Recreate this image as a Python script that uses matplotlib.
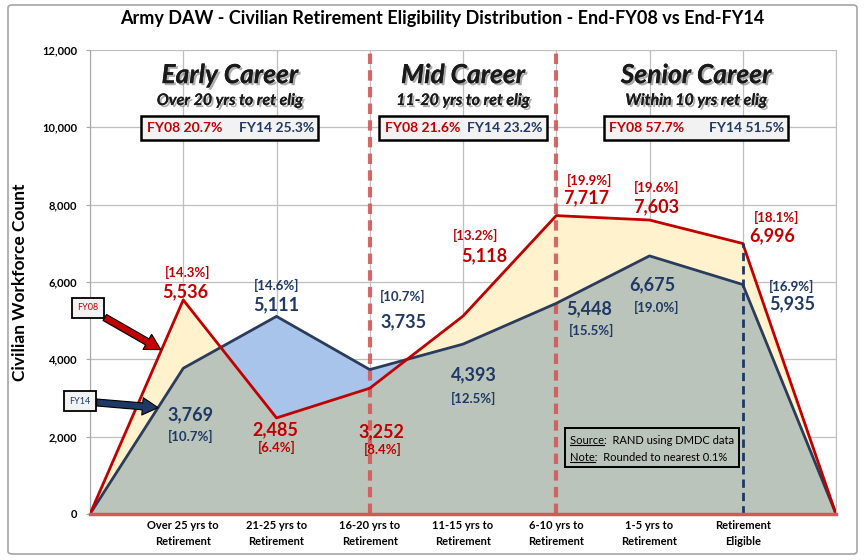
import numpy as np
import matplotlib
matplotlib.use("Agg")
import matplotlib.pyplot as plt
import matplotlib.patheffects as pe
from matplotlib.patches import Rectangle, FancyBboxPatch

plt.rcParams['font.family'] = ['Lato', 'DejaVu Sans']

# data
categories = ['', 'Over 25 yrs to\nRetirement', '21-25 yrs to\nRetirement', '16-20 yrs to\nRetirement',
              '11-15 yrs to\nRetirement', '6-10 yrs to\nRetirement', '1-5 yrs to\nRetirement',
              'Retirement\nEligible', '']
fy08 = [0, 5536, 2485, 3252, 5118, 7717, 7603, 6996, 0]
fy14 = [0, 3769, 5111, 3735, 4393, 5448, 6675, 5935, 0]
fy08_pct = ['14.3', '6.4', '8.4', '13.2', '19.9', '19.6', '18.1']
fy14_pct = ['10.7', '14.6', '10.7', '12.5', '15.5', '19.0', '16.9']

regions = ['Early Career', 'Mid Career', 'Senior Career']
region_sub = ['Over 20 yrs to ret elig', '11-20 yrs to ret elig', 'Within 10 yrs ret elig']
region_fy08 = ['20.7', '21.6', '57.7']
region_fy14 = ['25.3', '23.2', '51.5']

RED = '#C00000'
NAVY = '#1F3864'

# label offsets in pixels (dx, dy) for value and percent labels
fy08_val_off = [(2, 8), (-1, -12), (12, -43), (21, 60), (30, 18), (7, 13), (29, 8)]
fy08_pct_off = [(4, 27), (0, -30), (13, -61), (13, 81), (33, 35), (7, 33), (34, 26)]
fy14_val_off = [(7, -46), (0, 12), (34, 48), (11, -31), (33, -5), (3, -29), (49, -19)]
fy14_pct_off = [(7, -68), (0, 31), (33, 73), (11, -54), (35, -27), (7, -52), (49, -2)]

fig = plt.figure(figsize=(8.65, 5.6), dpi=100)
ax = fig.add_axes([90 / 865, 46 / 560, 746 / 865, 464 / 560])

x = np.arange(len(fy08))
xf = np.linspace(0, len(fy08) - 1, 1601)
y08 = np.interp(xf, x, fy08)
y14 = np.interp(xf, x, fy14)

ax.fill_between(xf, 0, np.minimum(y08, y14), color='#BBC4BA', lw=0, zorder=2)
ax.fill_between(xf, y14, y08, where=y08 >= y14, color='#FFF2CC', lw=0, zorder=2)
ax.fill_between(xf, y08, y14, where=y14 >= y08, color='#A9C4EA', lw=0, zorder=2)
ax.plot(x, fy14, color='#2B3B5C', lw=2, zorder=4)
ax.plot(x, fy08, color=RED, lw=2, zorder=5)

ax.set_xlim(0, 8)
ax.set_ylim(0, 12000)
ax.set_yticks(range(0, 12001, 2000))
ax.set_yticklabels([f'{v:,}' for v in range(0, 12001, 2000)], fontsize=8, fontweight='bold')
ax.set_xticks(x)
ax.set_xticklabels(categories, fontsize=8, fontweight='bold', linespacing=1.55)
ax.tick_params(axis='x', length=0, pad=4)
ax.tick_params(axis='y', length=3, color='#A6A6A6', pad=6)
ax.grid(True, color='#BFBFBF', lw=0.9, zorder=1)
ax.set_axisbelow(True)
ax.spines['top'].set_visible(False)
ax.spines['left'].set_color('#A6A6A6')
ax.spines['right'].set_color('#BFBFBF')
ax.spines['bottom'].set_color('#D05A5A')
ax.spines['bottom'].set_linewidth(2.5)
ax.spines['bottom'].set_zorder(6)

ax.set_ylabel('Civilian Workforce Count', fontsize=12.5, fontweight='bold')
ax.yaxis.set_label_coords(-0.083, 0.5)

# career separators
for xv in [3, 5]:
    ax.axvline(xv, color='#D05A5A', lw=3, ls=(0, (2.5, 1.5)), alpha=0.9, zorder=3)
ax.vlines(7, 0, fy08[7], color=NAVY, lw=2, ls=(0, (3, 1.8)), zorder=6)

# data labels
for i in range(1, 8):
    k = i - 1
    ax.annotate(f'{fy08[i]:,}', (i, fy08[i]), xytext=fy08_val_off[k], textcoords='offset pixels',
                ha='center', va='center', color=RED, fontsize=13, fontweight='bold', zorder=7)
    ax.annotate(f'[{fy08_pct[k]}%]', (i, fy08[i]), xytext=fy08_pct_off[k], textcoords='offset pixels',
                ha='center', va='center', color=RED, fontsize=9.5, fontweight='bold', zorder=7)
    ax.annotate(f'{fy14[i]:,}', (i, fy14[i]), xytext=fy14_val_off[k], textcoords='offset pixels',
                ha='center', va='center', color=NAVY, fontsize=13, fontweight='bold', zorder=7)
    ax.annotate(f'[{fy14_pct[k]}%]', (i, fy14[i]), xytext=fy14_pct_off[k], textcoords='offset pixels',
                ha='center', va='center', color=NAVY, fontsize=9.5, fontweight='bold', zorder=7)

# region headings
region_x = [1.5, 4, 6.5]
box_w = [1.9, 1.8, 1.98]
shadow = [pe.withSimplePatchShadow(offset=(1.5, -1.5), shadow_rgbFace='#777777', alpha=0.6), pe.Normal()]
for cx, name, sub, p08, p14, w in zip(region_x, regions, region_sub, region_fy08, region_fy14, box_w):
    ax.text(cx, 11350, name, ha='center', va='center', fontsize=19, fontweight='bold',
            style='italic', color='#1A1A1A', path_effects=shadow, zorder=8)
    ax.text(cx, 10680, sub, ha='center', va='center', fontsize=11.5, fontweight='bold',
            style='italic', color='#1A1A1A', path_effects=shadow, zorder=8)
    ax.add_patch(Rectangle((cx - w / 2, 9680), w, 610, facecolor='#F2F2F2', edgecolor='black',
                           lw=1.8, zorder=8))
    ax.text(cx - w / 2 + 0.06, 9985, f'FY08 {p08}%', ha='left', va='center', fontsize=10,
            fontweight='bold', color=RED, zorder=9)
    ax.text(cx + w / 2 - 0.05, 9985, f'FY14 {p14}%', ha='right', va='center', fontsize=10,
            fontweight='bold', color=NAVY, zorder=9)

# series callouts
arrow = 'simple,head_length=0.45,head_width=0.5,tail_width=0.2'
ax.annotate('FY08', xy=(0.76, 4250), xytext=(-0.02, 5330), fontsize=6.5, color=RED,
            ha='center', va='center', annotation_clip=False, zorder=9,
            bbox=dict(boxstyle='square,pad=0.6', fc='#F2F2F2', ec='black', lw=1.3),
            arrowprops=dict(arrowstyle=arrow, mutation_scale=25,
                            fc=RED, ec='black', lw=0.8, shrinkA=0, shrinkB=0))
ax.annotate('FY14', xy=(0.73, 2750), xytext=(-0.107, 2920), fontsize=6.5, color=NAVY,
            ha='center', va='center', annotation_clip=False, zorder=9,
            bbox=dict(boxstyle='square,pad=0.6', fc='#F2F2F2', ec='black', lw=1.3),
            arrowprops=dict(arrowstyle=arrow, mutation_scale=25,
                            fc=NAVY, ec='black', lw=0.8, shrinkA=0, shrinkB=0))

# source note
ax.add_patch(Rectangle((5.09, 1215), 1.87, 1010, facecolor='none', edgecolor='black', lw=1.4, zorder=8))
src = ax.text(5.15, 1910, 'Source:  RAND using DMDC data', fontsize=8, ha='left', va='center', zorder=9)
note = ax.text(5.15, 1470, 'Note:  Rounded to nearest 0.1%', fontsize=8, ha='left', va='center', zorder=9)

fig.canvas.draw()
renderer = fig.canvas.get_renderer()
for t, word in [(src, 'Source'), (note, 'Note')]:
    tmp = ax.text(*t.get_position(), word, fontsize=8, ha='left', va='center')
    bb = tmp.get_window_extent(renderer)
    tmp.remove()
    inv = ax.transData.inverted()
    (x0, y0), (x1, _) = inv.transform([(bb.x0, bb.y0 + 1), (bb.x1, bb.y0 + 1)])
    ax.plot([x0, x1], [y0, y0], color='black', lw=0.8, zorder=9)

fig.text(0.511, 0.967, 'Army DAW - Civilian Retirement Eligibility Distribution - End-FY08 vs End-FY14',
         ha='center', va='center', fontsize=13, fontweight='bold')

fig.patches.append(FancyBboxPatch((8 / 865, 6 / 560), 849 / 865, 549 / 560,
                                  boxstyle='round,pad=0,rounding_size=0.005',
                                  transform=fig.transFigure, fc='none', ec='#A6A6A6', lw=1.2))

fig.savefig('out.png', dpi=100)
